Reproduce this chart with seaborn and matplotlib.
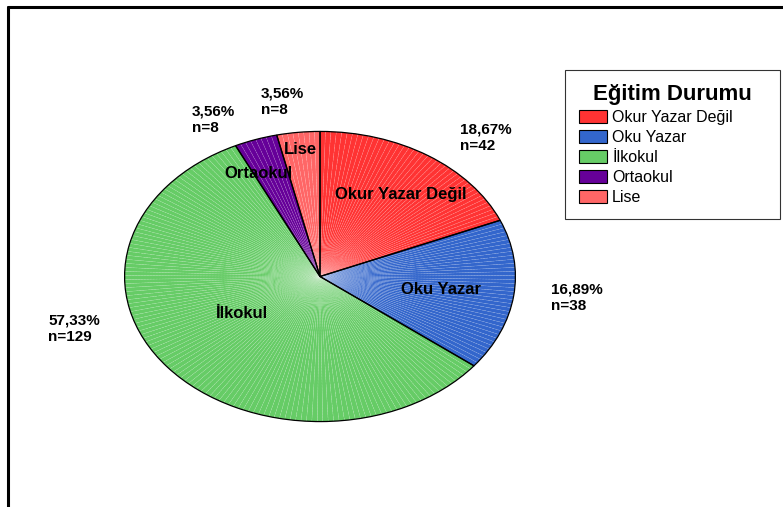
import matplotlib
matplotlib.use("Agg")
import matplotlib.pyplot as plt
import seaborn as sns
from matplotlib.patches import Patch

# data
categories = ["Okur Yazar Değil", "Oku Yazar", "İlkokul", "Ortaokul", "Lise"]
counts = [42, 38, 129, 8, 8]
percents = ["18,67%", "16,89%", "57,33%", "3,56%", "3,56%"]

sns.set_theme(style="white")
plt.rcParams["font.family"] = ["Liberation Sans", "DejaVu Sans"]
plt.rcParams["text.color"] = "black"

colors = ["#FF3333", "#3366CC", "#66CC66", "#660099", "#FF6666"]

W, H = 783, 507
fig = plt.figure(figsize=(W / 100, H / 100), dpi=100)

# frame lines (top and left)
fig.add_artist(plt.Line2D([8 / W, 1], [1 - 7 / H, 1 - 7 / H], color="black", lw=2.2))
fig.add_artist(plt.Line2D([8 / W, 8 / W], [0, 1 - 7 / H], color="black", lw=2.2))

# pie axes placed over ellipse bounding box
x0, x1, y0, y1 = 124, 516, 131, 422
ax = fig.add_axes([x0 / W, 1 - y1 / H, (x1 - x0) / W, (y1 - y0) / H])

# one thin wedge per case
case_vals = []
case_cols = []
for c, col in zip(counts, colors):
    case_vals += [1] * c
    case_cols += [col] * c
ax.pie(case_vals, colors=case_cols, startangle=90, counterclock=False,
       wedgeprops=dict(edgecolor=(1, 1, 1, 0.18), linewidth=0.4, linestyle="--"))
ax.pie(counts, colors=["none"] * len(counts), startangle=90, counterclock=False,
       wedgeprops=dict(edgecolor="black", linewidth=0.9))
ax.set_aspect("auto")
ax.set_xlim(-1.003, 1.003)
ax.set_ylim(-1.003, 1.003)
ax.axis("off")

def ftext(px, py, s, **kw):
    fig.text(px / W, 1 - py / H, s, color="black", **kw)

# inside labels
inside_pos = [(401, 195), (441, 289), (242, 313), (258, 173), (300, 150)]
for (px, py), name in zip(inside_pos, categories):
    ftext(px, py, name, ha="center", va="center", fontsize=12, fontweight="bold")

# outside labels
outside_pos = [(460, 138), (551, 298), (48, 329), (192, 120), (261, 102)]
for (px, py), p, n in zip(outside_pos, percents, counts):
    ftext(px, py, f"{p}\nn={n}", ha="left", va="center", fontsize=11,
          fontweight="bold", linespacing=1.2)

# legend
handles = [Patch(facecolor=c, edgecolor="black", linewidth=0.8) for c in colors]
leg = fig.legend(handles, categories, title="Eğitim Durumu",
                 loc="upper left", mode="expand",
                 bbox_to_anchor=(565 / W, 1 - 218 / H, 215 / W, 148 / H),
                 frameon=True, fancybox=False, fontsize=11.5,
                 title_fontproperties={"weight": "bold", "size": 16},
                 handlelength=1.7, handleheight=0.9, handletextpad=0.35,
                 labelspacing=0.3, borderpad=0.9, borderaxespad=0)
leg.get_frame().set_edgecolor("black")
leg.get_frame().set_linewidth(0.8)
for t in leg.get_texts():
    t.set_color("black")
leg.get_title().set_color("black")

fig.savefig("out.png", dpi=100)
